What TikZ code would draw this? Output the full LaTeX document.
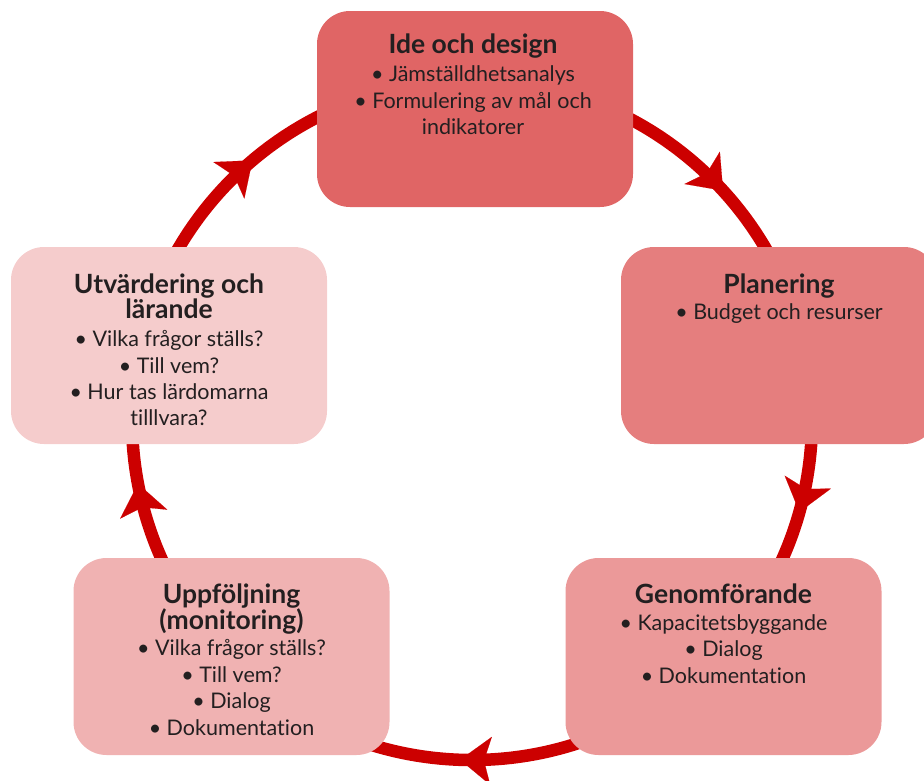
\documentclass[tikz,border=0pt]{standalone}
\usepackage{fontspec}
\setmainfont{Lato}[Ligatures={NoCommon}]
\usetikzlibrary{arrows.meta,decorations.markings}
\definecolor{ringred}{HTML}{CC0000}
\definecolor{boxA}{HTML}{E06565}
\definecolor{boxB}{HTML}{E57E7E}
\definecolor{boxC}{HTML}{EB9999}
\definecolor{boxD}{HTML}{F0B2B2}
\definecolor{boxE}{HTML}{F5CCCC}
\definecolor{ink}{HTML}{231F20}
\tikzset{ringtip/.tip={Stealth[length=31pt,width=48pt,inset=7pt,line width=0.1pt]}}
\begin{document}
\begin{tikzpicture}[x=1pt,y=-1pt,
  phase/.style={rectangle, rounded corners=33pt, minimum width=316pt, minimum height=197pt, inner sep=0pt, draw=none},
  ttl/.style={anchor=base, inner sep=0pt, font=\fontsize{26.5}{26}\selectfont\bfseries, text=ink},
  itm/.style={anchor=base, inner sep=0pt, font=\fontsize{21.5}{26}\selectfont, text=ink},
  ring/.style={line width=12.5pt, draw=ringred, color=ringred}
]
\path[use as bounding box] (0,0) rectangle (924,780);
\clip (0,0) rectangle (924,780);

% ring with arrowheads
\coordinate (c) at (472,420);
\draw[ring, postaction={decorate}, decoration={markings,
    mark=at position 0.0436 with {\arrow{ringtip}},
    mark=at position 0.2556 with {\arrow{ringtip}},
    mark=at position 0.4700 with {\arrow{ringtip}},
    mark=at position 0.6383 with {\arrow{ringtip}},
    mark=at position 0.8822 with {\arrow{ringtip}}}]
  (c) ++(0:340pt) arc[start angle=0, end angle=-360, radius=340pt];

% boxes
\node[phase, fill=boxA, minimum height=196pt] (ide) at (475,109) {};
\node[phase, fill=boxB] (plan) at (779,345.5) {};
\node[phase, fill=boxC] (genom) at (723.5,656.5) {};
\node[phase, fill=boxD] (uppf) at (231.5,656.5) {};
\node[phase, fill=boxE] (utv) at (169,345.5) {};

% Ide och design
\node[ttl] (ide-t) at (473,53.5) {Ide och design};
\node[itm] (ide-1) at (473,81.5) {• Jämställdhetsanalys};
\node[itm] (ide-2) at (473,108) {• Formulering av mål och};
\node[itm] (ide-3) at (473,134) {indikatorer};

% Planering
\node[ttl] (plan-t) at (779,293) {Planering};
\node[itm] (plan-1) at (779,319) {• Budget och resurser};

% Genomförande
\node[ttl] (genom-t) at (723.5,603) {Genomförande};
\node[itm] (genom-1) at (723.5,630) {• Kapacitetsbyggande};
\node[itm] (genom-2) at (723.5,656) {• Dialog};
\node[itm] (genom-3) at (723.5,683) {• Dokumentation};

% Uppföljning
\node[ttl] (uppf-t) at (231.5,603) {Uppföljning};
\node[ttl] (uppf-t2) at (231.5,629) {(monitoring)};
\node[itm] (uppf-1) at (231.5,655) {• Vilka frågor ställs?};
\node[itm] (uppf-2) at (231.5,682) {• Till vem?};
\node[itm] (uppf-3) at (231.5,708) {• Dialog};
\node[itm] (uppf-4) at (231.5,735) {• Dokumentation};

% Utvärdering
\node[ttl] (utv-t) at (169,293) {Utvärdering och};
\node[ttl] (utv-t2) at (169,318) {lärande};
\node[itm] (utv-1) at (169,346) {• Vilka frågor ställs?};
\node[itm] (utv-2) at (169,373) {• Till vem?};
\node[itm] (utv-3) at (169,399) {• Hur tas lärdomarna};
\node[itm] (utv-4) at (169,425) {tilllvara?};
\end{tikzpicture}
\end{document}
